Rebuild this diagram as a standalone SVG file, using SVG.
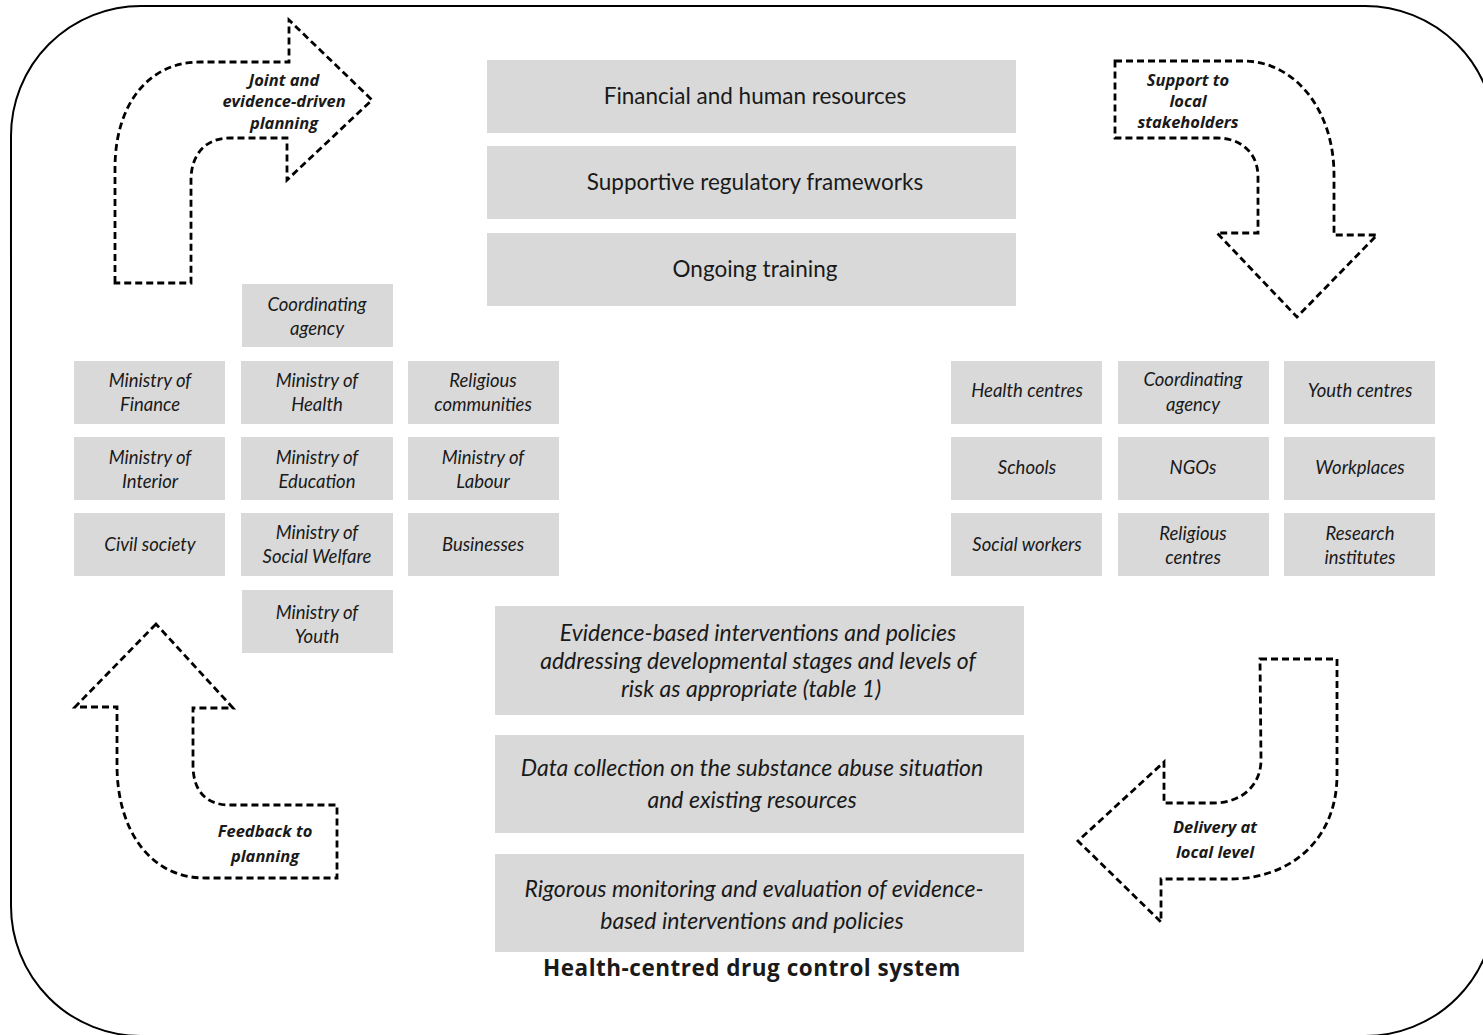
<svg xmlns="http://www.w3.org/2000/svg" width="1483" height="1035" viewBox="0 0 1483 1035">
<style>
.box{fill:#d9d9d9;}
.t{font-family:Lato,"Open Sans","Liberation Sans",sans-serif;fill:#1a1a1a;text-anchor:middle;}
.big{font-size:22.5px;}
.it{font-size:18.5px;font-style:italic;}
.mid{font-size:23px;font-style:italic;}
.lbl{font-family:"Open Sans","Noto Sans","Liberation Sans",sans-serif;font-size:16.5px;font-style:italic;font-weight:bold;}
.title{font-family:"Open Sans","Noto Sans","Liberation Sans",sans-serif;font-size:22.5px;font-weight:bold;letter-spacing:0.5px;}
.arrow{fill:none;stroke:#000;stroke-width:2.8;stroke-dasharray:7 4;}
</style>
<rect x="11" y="6" width="1484" height="1030" rx="130" ry="130" fill="#fff" stroke="#000" stroke-width="2"/>

<g id="connectors">
<g id="arrow-planning">
<path class="arrow" d="M115,283 L115,168 C115,105 148,62 200,62 L289,62 L289,20 L372,100 L287,180 L287,138 L230,138 C205,138 191,155 191,180 L191,283 Z"/>
<text class="t lbl" x="284" y="86">Joint and</text>
<text class="t lbl" x="284" y="107">evidence-driven</text>
<text class="t lbl" x="284" y="129">planning</text>
</g>
<g id="arrow-support">
<path class="arrow" d="M1115,61 L1243,61 C1295,61 1334,110 1334,175 L1334,235 L1377,235 L1297,317 L1217,233 L1258,233 L1258,177 C1258,152 1240,138 1217,138 L1115,138 Z"/>
<text class="t lbl" x="1188" y="86">Support to</text>
<text class="t lbl" x="1188" y="107">local</text>
<text class="t lbl" x="1188" y="128">stakeholders</text>
</g>
<g id="arrow-feedback">
<path class="arrow" d="M156,624 L75,707 L117,707 L117,765 C117,830 150,878 205,878 L337,878 L337,805 L230,805 C205,805 193,790 193,765 L193,708 L233,708 Z"/>
<text class="t lbl" x="265" y="837">Feedback to</text>
<text class="t lbl" x="265" y="862">planning</text>
</g>
<g id="arrow-delivery">
<path class="arrow" d="M1260,659 L1337,659 L1337,775 C1337,840 1290,879 1230,879 L1161,879 L1161,922 L1078,841 L1164,762 L1164,803 L1213,803 C1242,803 1261,785 1261,760 Z"/>
<text class="t lbl" x="1215" y="833">Delivery at</text>
<text class="t lbl" x="1215" y="858">local level</text>
</g>
</g>

<g id="top-boxes">
<g id="n-financial"><rect class="box" x="487" y="60" width="529" height="73"/><text class="t big" x="755" y="104">Financial and human resources</text></g>
<g id="n-regulatory"><rect class="box" x="487" y="146" width="529" height="73"/><text class="t big" x="755" y="190">Supportive regulatory frameworks</text></g>
<g id="n-training"><rect class="box" x="487" y="233" width="529" height="73"/><text class="t big" x="755" y="277">Ongoing training</text></g>
</g>

<g id="left-grid">
<g id="n-l-coord"><rect class="box" x="242" y="284" width="151" height="63"/><text class="t it" x="317" y="311">Coordinating</text><text class="t it" x="317" y="335">agency</text></g>
<g id="n-finance"><rect class="box" x="74" y="361" width="151" height="63"/><text class="t it" x="150" y="387">Ministry of</text><text class="t it" x="150" y="411">Finance</text></g>
<g id="n-health"><rect class="box" x="241" y="361" width="152" height="63"/><text class="t it" x="317" y="387">Ministry of</text><text class="t it" x="317" y="411">Health</text></g>
<g id="n-religious"><rect class="box" x="408" y="361" width="151" height="63"/><text class="t it" x="483" y="387">Religious</text><text class="t it" x="483" y="411">communities</text></g>
<g id="n-interior"><rect class="box" x="74" y="437" width="151" height="63"/><text class="t it" x="150" y="464">Ministry of</text><text class="t it" x="150" y="488">Interior</text></g>
<g id="n-education"><rect class="box" x="241" y="437" width="152" height="63"/><text class="t it" x="317" y="464">Ministry of</text><text class="t it" x="317" y="488">Education</text></g>
<g id="n-labour"><rect class="box" x="408" y="437" width="151" height="63"/><text class="t it" x="483" y="464">Ministry of</text><text class="t it" x="483" y="488">Labour</text></g>
<g id="n-civil"><rect class="box" x="74" y="513" width="151" height="63"/><text class="t it" x="150" y="551">Civil society</text></g>
<g id="n-welfare"><rect class="box" x="241" y="513" width="152" height="63"/><text class="t it" x="317" y="539">Ministry of</text><text class="t it" x="317" y="563">Social Welfare</text></g>
<g id="n-business"><rect class="box" x="408" y="513" width="151" height="63"/><text class="t it" x="483" y="551">Businesses</text></g>
<g id="n-youth"><rect class="box" x="242" y="590" width="151" height="63"/><text class="t it" x="317" y="619">Ministry of</text><text class="t it" x="317" y="643">Youth</text></g>
</g>

<g id="right-grid">
<g id="n-hcentres"><rect class="box" x="951" y="361" width="151" height="63"/><text class="t it" x="1027" y="397">Health centres</text></g>
<g id="n-r-coord"><rect class="box" x="1118" y="361" width="151" height="63"/><text class="t it" x="1193" y="386">Coordinating</text><text class="t it" x="1193" y="411">agency</text></g>
<g id="n-ycentres"><rect class="box" x="1284" y="361" width="151" height="63"/><text class="t it" x="1360" y="397">Youth centres</text></g>
<g id="n-schools"><rect class="box" x="951" y="437" width="151" height="63"/><text class="t it" x="1027" y="474">Schools</text></g>
<g id="n-ngos"><rect class="box" x="1118" y="437" width="151" height="63"/><text class="t it" x="1193" y="474">NGOs</text></g>
<g id="n-workplaces"><rect class="box" x="1284" y="437" width="151" height="63"/><text class="t it" x="1360" y="474">Workplaces</text></g>
<g id="n-social"><rect class="box" x="951" y="513" width="151" height="63"/><text class="t it" x="1027" y="551">Social workers</text></g>
<g id="n-rcentres"><rect class="box" x="1118" y="513" width="151" height="63"/><text class="t it" x="1193" y="540">Religious</text><text class="t it" x="1193" y="564">centres</text></g>
<g id="n-research"><rect class="box" x="1284" y="513" width="151" height="63"/><text class="t it" x="1360" y="540">Research</text><text class="t it" x="1360" y="564">institutes</text></g>
</g>

<g id="bottom-boxes">
<g id="n-evidence"><rect class="box" x="495" y="606" width="529" height="109"/>
<text class="t mid" x="758" y="641">Evidence-based interventions and policies</text>
<text class="t mid" x="758" y="669">addressing developmental stages and levels of</text>
<text class="t mid" x="751" y="697">risk as appropriate (table 1)</text></g>
<g id="n-data"><rect class="box" x="495" y="735" width="529" height="98"/>
<text class="t mid" x="752" y="776">Data collection on the substance abuse situation</text>
<text class="t mid" x="752" y="808">and existing resources</text></g>
<g id="n-monitoring"><rect class="box" x="495" y="854" width="529" height="98"/>
<text class="t mid" x="754" y="897">Rigorous monitoring and evaluation of evidence-</text>
<text class="t mid" x="752" y="929">based interventions and policies</text></g>
</g>

<text id="title" class="t title" x="752" y="976">Health-centred drug control system</text>
</svg>
